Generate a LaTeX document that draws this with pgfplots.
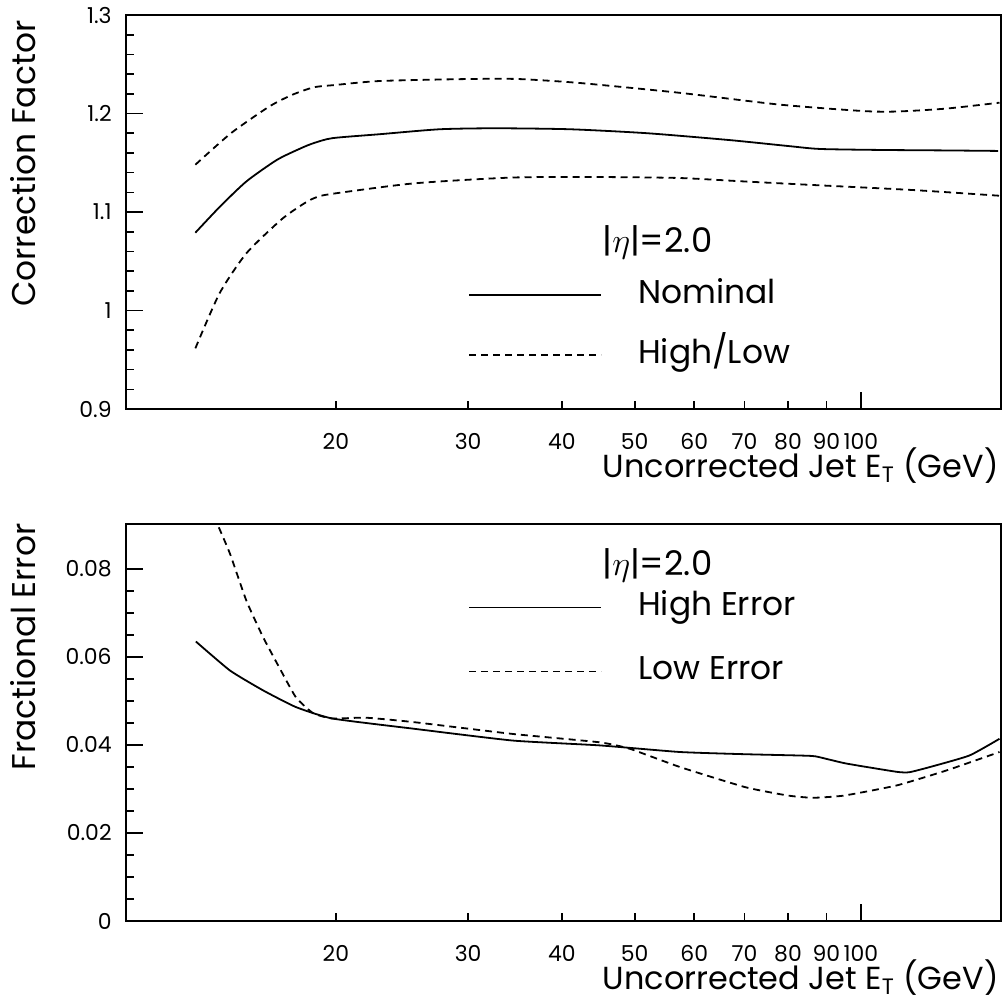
\documentclass[border=0pt]{standalone}
\usepackage{fontspec}
\setmainfont{Poppins}
\usepackage{pgfplots}
\pgfplotsset{compat=1.18}

\tikzset{
  solidc/.style={black, line width=0.9bp},
  dashc/.style={black, line width=0.9bp, dash pattern=on 3.5bp off 2.5bp},
}

\begin{document}
\begin{tikzpicture}
\useasboundingbox (-63bp,-299bp) rectangle (441bp,204.5bp);
\begin{axis}[scale only axis, width=437.5bp, height=197bp,
  xmode=log, xmin=10.51, xmax=153.7,
  ymin=0.9, ymax=1.3,
  scaled y ticks=false,
  axis line style={line width=0.9bp},
  tick style={line width=0.8bp, black},
  tick align=inside, xtick pos=bottom, ytick pos=left,
  major tick length=8.5bp, minor tick length=4bp,
  xtick={100}, xticklabels={100},
  minor xtick={20,30,40,50,60,70,80,90},
  extra x ticks={20,30,40,50,60,70,80,90},
  extra x tick labels={20,30,40,50,60,70,80,90},
  extra x tick style={tick style={draw=none}},
  xticklabel style={anchor=base, yshift=-20bp, inner sep=0pt},
  yticklabel style={anchor=east, inner sep=0pt, xshift=-7bp},
  ticklabel style={font=\fontsize{11}{13}\selectfont},
  ytick={0.9,1.0,1.1,1.2,1.3}, yticklabels={0.9,1,1.1,1.2,1.3},
  minor y tick num=4,
  xlabel={Uncorrected Jet E\textsubscript{T} (GeV)},
  xlabel style={at={(axis description cs:0.9977,-0.1726)}, anchor=base east,
    font=\fontsize{16}{19}\selectfont, inner sep=0pt},
  ylabel={Correction Factor},
  ylabel style={at={(axis description cs:-0.104,0.987)}, anchor=base east,
    font=\fontsize{16.5}{19}\selectfont, inner sep=0pt},
  legend style={draw=none, fill=none, anchor=north west,
    at={(axis description cs:0.3909,0.33)},
    font=\fontsize{16.5}{19}\selectfont, inner sep=0pt,
    row sep=14bp, column sep=18bp,
    nodes={inner sep=0pt, text height=12bp, text depth=4bp}},
  legend image code/.code={\draw[#1] (0bp,0bp) -- (66bp,0bp);},
  legend cell align=left,
]
\addplot[solidc, smooth, tension=0.4] coordinates {
(13.0,1.079) (14.0,1.105) (15.2,1.131) (16.7,1.153) (18.0,1.165) (18.7,1.170)
(19.8,1.175) (22.9,1.179) (27.5,1.184) (32.7,1.185) (41.0,1.184) (51.9,1.180)
(66.9,1.173) (80,1.167) (88.2,1.164) (106,1.163) (130,1.1625) (152.4,1.162)};
\addlegendentry{Nominal}
\addplot[dashc, smooth, tension=0.4] coordinates {
(13.0,1.148) (14.5,1.180) (16.3,1.207) (17.5,1.219) (18.7,1.2266) (20.0,1.229)
(22.9,1.233) (30,1.235) (35,1.235) (42.2,1.231) (57.4,1.221) (78,1.209)
(100.7,1.2025) (111.6,1.202) (130,1.205) (153,1.211)};
\addlegendentry{High/Low}
\addplot[dashc, forget plot, smooth, tension=0.4] coordinates {
(13.0,0.9616) (14.0,1.0174) (15.2,1.058) (16.9,1.092) (18.0,1.107) (18.7,1.114)
(19.6,1.118) (25.35,1.129) (34.4,1.135) (44.9,1.1355) (57.4,1.1345) (70,1.131)
(86.4,1.1274) (117.3,1.1223) (153,1.1165)};
\node[anchor=base west, inner sep=0pt, font=\fontsize{17}{19}\selectfont]
  at (axis description cs:0.544,0.396) {|$\eta$|=2.0};
\end{axis}

\begin{axis}[scale only axis, width=437.5bp, height=198.5bp, at={(0,-256bp)},
  xmode=log, xmin=10.51, xmax=153.7,
  ymin=0, ymax=0.0902,
  scaled y ticks=false,
  axis line style={line width=0.9bp},
  tick style={line width=0.8bp, black},
  tick align=inside, xtick pos=bottom, ytick pos=left,
  major tick length=8.5bp, minor tick length=4bp,
  xtick={100}, xticklabels={100},
  minor xtick={20,30,40,50,60,70,80,90},
  extra x ticks={20,30,40,50,60,70,80,90},
  extra x tick labels={20,30,40,50,60,70,80,90},
  extra x tick style={tick style={draw=none}},
  xticklabel style={anchor=base, yshift=-20bp, inner sep=0pt},
  yticklabel style={anchor=east, inner sep=0pt, xshift=-7bp},
  ticklabel style={font=\fontsize{11}{13}\selectfont},
  ytick={0,0.02,0.04,0.06,0.08}, yticklabels={0,0.02,0.04,0.06,0.08},
  minor y tick num=3,
  xlabel={Uncorrected Jet E\textsubscript{T} (GeV)},
  xlabel style={at={(axis description cs:0.9977,-0.1713)}, anchor=base east,
    font=\fontsize{16}{19}\selectfont, inner sep=0pt},
  ylabel={Fractional Error},
  ylabel style={at={(axis description cs:-0.104,1.0025)}, anchor=base east,
    font=\fontsize{16.5}{19}\selectfont, inner sep=0pt},
  legend style={draw=none, fill=none, anchor=north west,
    at={(axis description cs:0.3909,0.831)},
    font=\fontsize{16.5}{19}\selectfont, inner sep=0pt,
    row sep=16bp, column sep=18bp,
    nodes={inner sep=0pt, text height=12bp, text depth=4bp}},
  legend image code/.code={\draw[#1] (0bp,0bp) -- (66bp,0bp);},
  legend cell align=left,
]
\addplot[solidc, smooth, tension=0.3] coordinates {
(13.02,0.0635) (14.46,0.0569) (16.0,0.0524) (17.7,0.0486) (19.8,0.046)
(25.35,0.0437) (34.4,0.041) (44.9,0.0399) (57.4,0.0384) (70,0.0379)
(82.8,0.0376) (87.1,0.0374) (95.5,0.0358) (111.6,0.0339) (116,0.0338)
(123.7,0.035) (139.5,0.0376) (153,0.0414)};
\addlegendentry{High Error}
\addplot[dashc, smooth, tension=0.3] coordinates {
(13.0,0.102) (13.94,0.0898) (14.46,0.0834) (15.2,0.0728) (16.0,0.0645)
(16.9,0.0569) (17.7,0.0508) (18.66,0.0472) (19.8,0.046) (21.9,0.0462)
(25.35,0.0452) (34.4,0.0425) (44.9,0.0406) (49.3,0.0391) (57.4,0.035)
(70.2,0.0304) (80,0.0285) (86.4,0.028) (95,0.0285) (111.6,0.0308)
(130,0.0342) (153,0.0384)};
\addlegendentry{Low Error}
\node[anchor=base west, inner sep=0pt, font=\fontsize{17}{19}\selectfont]
  at (axis description cs:0.544,0.8715) {|$\eta$|=2.0};
\end{axis}
\end{tikzpicture}
\end{document}
